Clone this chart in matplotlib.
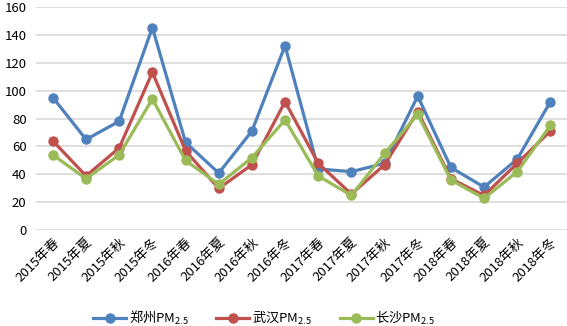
import numpy as np
import matplotlib
matplotlib.use('Agg')
import matplotlib.pyplot as plt

plt.rcParams['font.family'] = ['Noto Sans CJK SC', 'DejaVu Sans']
plt.rcParams['mathtext.default'] = 'regular'

seasons = ['2015年春', '2015年夏', '2015年秋', '2015年冬',
           '2016年春', '2016年夏', '2016年秋', '2016年冬',
           '2017年春', '2017年夏', '2017年秋', '2017年冬',
           '2018年春', '2018年夏', '2018年秋', '2018年冬']
zhengzhou = [95, 65, 78, 145, 63, 41, 71, 132, 44, 42, 48, 96, 45, 31, 51, 92]
wuhan = [64, 39, 59, 113, 57, 30, 47, 92, 48, 26, 47, 85, 37, 25, 48, 71]
changsha = [54, 37, 54, 94, 50, 33, 52, 79, 39, 25, 55, 83, 36, 23, 42, 75]

fig = plt.figure(figsize=(5.67, 3.26), dpi=100)
ax = fig.add_axes([0.064, 0.293, 0.936, 0.687])

x = np.arange(len(seasons))
ax.plot(x, zhengzhou, color='#4F81BD', lw=2.3, marker='o', ms=6.5, label='郑州PM$_{2.5}$')
ax.plot(x, wuhan, color='#C0504D', lw=2.3, marker='o', ms=6.5, label='武汉PM$_{2.5}$')
ax.plot(x, changsha, color='#9BBB59', lw=2.3, marker='o', ms=6.5, label='长沙PM$_{2.5}$')

ax.set_xlim(-0.5, len(seasons) - 0.5)
ax.set_ylim(0, 160)
ax.set_yticks(range(0, 161, 20))
ax.grid(axis='y', color='#D9D9D9', lw=1.2)
ax.set_axisbelow(True)
for s in ax.spines.values():
    s.set_visible(False)
ax.tick_params(length=0, labelsize=9.5)
ax.tick_params(axis='y', pad=7)
ax.set_xticks(x)
ax.set_xticklabels(seasons, rotation=45, ha='right', rotation_mode='anchor', fontsize=9.5)

fig.legend(loc='lower center', bbox_to_anchor=(0.466, -0.04), ncol=3, frameon=False,
           fontsize=9.5, handlelength=2.5, handletextpad=0.2, columnspacing=2.1)

fig.savefig('out.png', dpi=100)
